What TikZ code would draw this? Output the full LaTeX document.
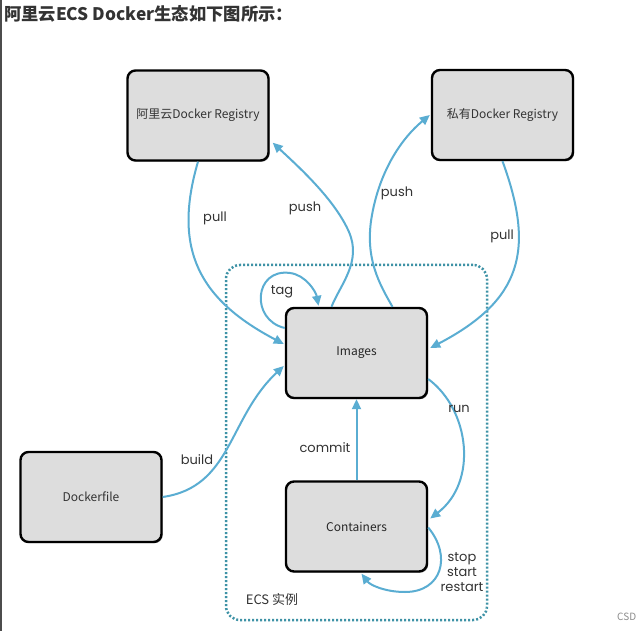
\documentclass[tikz,border=0pt]{standalone}
\usepackage{fontspec}
\newfontfamily\cjk{Noto Sans CJK SC}
\newfontfamily\geo{Poppins}
\usetikzlibrary{calc,shadows,arrows.meta}
\definecolor{arrowblue}{HTML}{5AADD2}
\definecolor{ecsteal}{HTML}{3E92A6}
\definecolor{boxfill}{HTML}{DDDDDD}
\definecolor{txt}{HTML}{333333}
\tikzset{
  dbox/.style={draw=black, line width=2.4pt, rounded corners=8pt, fill=boxfill,
    minimum width=141pt, minimum height=90pt, inner sep=0pt,
    font=\cjk\fontsize{12}{14}\selectfont, text=txt,
    drop shadow={shadow xshift=1.2pt, shadow yshift=-1.2pt, opacity=0.35, fill=black}},
  flow/.style={draw=arrowblue, line width=2pt, -{Triangle[length=10pt,width=9pt]}},
  lbl/.style={font=\geo\fontsize{13}{15}\selectfont, text=txt, inner sep=0pt}
}
\begin{document}
\begin{tikzpicture}[x=1pt,y=-1pt]
\useasboundingbox (0,0) rectangle (638,631);
\fill[white] (0,0) rectangle (638,631);
\draw[line width=1.5pt, black!70] (0.75,0) -- (0.75,631);
% title
\node[anchor=west, font=\cjk\bfseries\fontsize{17.3}{19}\selectfont, text=txt, inner sep=0pt] (title) at (4,14) {阿里云ECS Docker生态如下图所示：};
% ECS region
\node[draw=ecsteal, line width=2.5pt, dash pattern=on 2pt off 2pt, rounded corners=14pt,
  minimum width=261pt, minimum height=355pt, inner sep=0pt] (ecs) at (356.5,442.5) {};
\node[font=\cjk\fontsize{13}{15}\selectfont, text=txt] (ecslbl) at (272,600) {ECS 实例};
% boxes
\node[dbox] (r1) at (198,115.5) {阿里云Docker Registry};
\node[dbox] (r2) at (502.5,115) {私有Docker Registry};
\node[dbox, text=black!85] (img) at (356.5,353) {Images};
\node[dbox, text=black!85] (cont) at (356.5,526.5) {Containers};
\node[dbox] (df) at (91,497) {Dockerfile};
% connectors
\draw[flow] (r1.south) .. controls (172,250) and (200,300) .. ($(img.west)+(-1,-9)$);
\draw[flow] ($(img.north)+(-25,0)$) .. controls (340,285) and (362,262) .. (349,232)
   .. controls (335,200) and (300,168) .. ($(r1.south east)+(3,-19)$);
\draw[flow] ($(img.north)+(36,0)$) .. controls (380,285) and (364,258) .. (372,215)
   .. controls (380,170) and (402,138) .. ($(r2.west)+(-1,0)$);
\draw[flow] (r2.south) .. controls (535,250) and (522,300) .. ($(img.east)+(2,-5)$);
\draw[flow] ($(img.west)+(0,-25)$) .. controls (250,320) and (254,268) .. (290,273)
   .. controls (306,275) and (316,292) .. ($(img.north)+(-38,-1)$);
\draw[flow] (df.east) .. controls (232,487) and (228,418) .. ($(img.west)+(-1,13)$);
\draw[flow] ($(img.east)+(0,26)$) .. controls (470,410) and (478,482) .. ($(cont.east)+(2,-8)$);
\draw[flow] (cont.north) -- (img.south);
\draw[flow] ($(cont.east)+(0,1)$) .. controls (452,556) and (442,592) .. (405,592)
   .. controls (385,592) and (370,585) .. ($(cont.south)+(5,1)$);
% labels
\node[lbl] (lpull1) at (215,218) {pull};
\node[lbl] (lpush1) at (305,208) {push};
\node[lbl] (lpush2) at (397,193) {push};
\node[lbl] (lpull2) at (502,236) {pull};
\node[lbl] (ltag) at (282,292) {tag};
\node[lbl] (lbuild) at (197,460) {build};
\node[lbl] (lrun) at (459,409) {run};
\node[lbl] (lcommit) at (325,448) {commit};
\node[lbl, align=center, font=\geo\fontsize{13}{15}\selectfont] (lstop) at (462,572) {stop\\start\\restart};
\node[anchor=west, font=\cjk\fontsize{10}{12}\selectfont, text=black!45, inner sep=0pt] (csd) at (617,617) {CSD};
\end{tikzpicture}
\end{document}
